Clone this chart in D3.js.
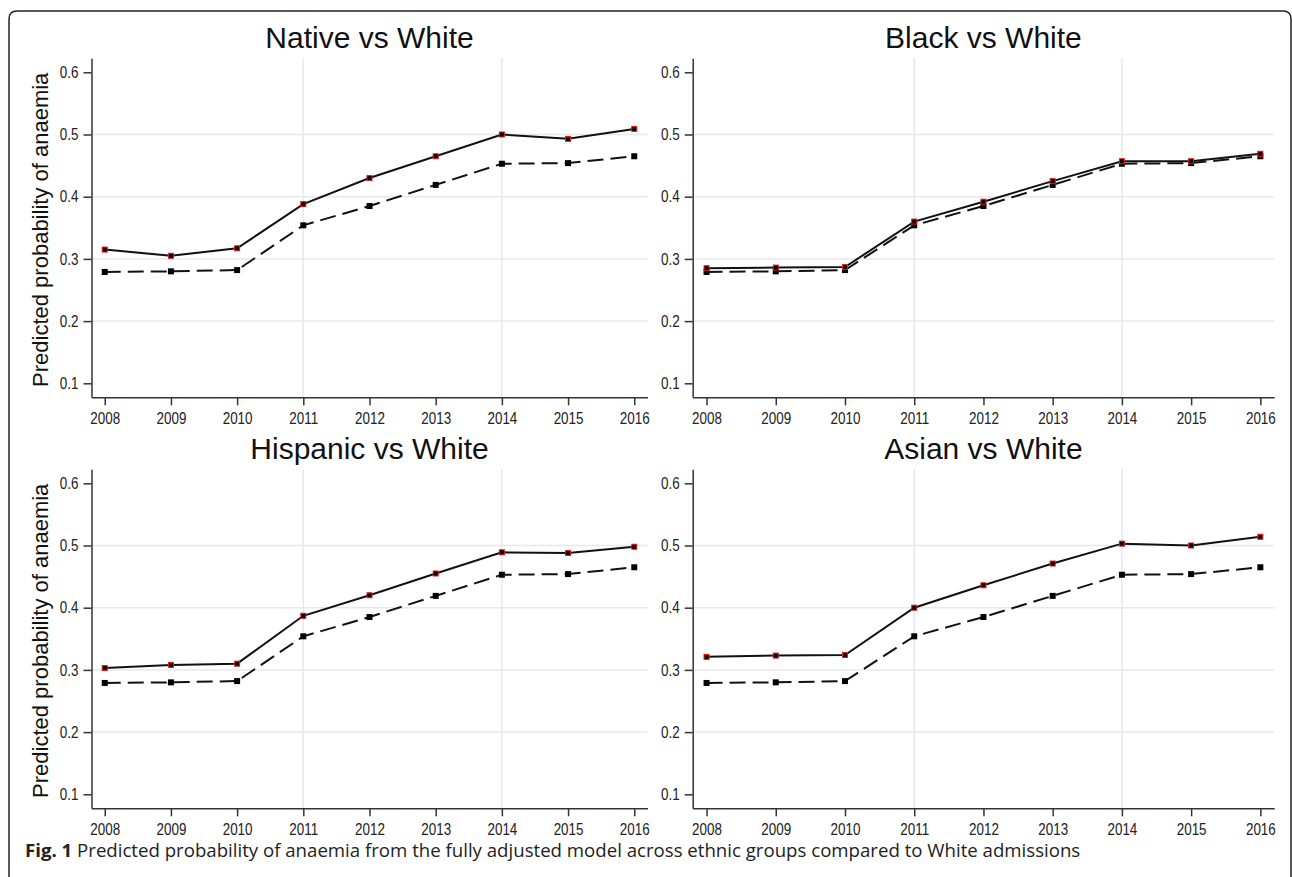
<!DOCTYPE html>
<html>
<head>
<meta charset="utf-8">
<script src="https://cdn.jsdelivr.net/npm/d3@7"></script>
<style>
  body { margin: 0; background: #fff; }
  svg { display: block; }
  .tick text { font-family: "Liberation Sans", Arial, sans-serif; fill: #222; }
  .domain, .tick line { stroke: #333; stroke-width: 1.5; }
</style>
</head>
<body>
<div id="chart"></div>
<script>
// years on the x axis
var years = [2008, 2009, 2010, 2011, 2012, 2013, 2014, 2015, 2016];
// reference group (dashed line), same in all panels
var white = [0.279, 0.280, 0.282, 0.354, 0.385, 0.419, 0.453, 0.454, 0.465];
// comparison groups (solid line)
var native = [0.315, 0.305, 0.317, 0.388, 0.430, 0.465, 0.500, 0.493, 0.509];
var black = [0.285, 0.286, 0.287, 0.360, 0.392, 0.425, 0.457, 0.457, 0.469];
var hispanic = [0.303, 0.308, 0.310, 0.387, 0.420, 0.455, 0.489, 0.488, 0.498];
var asian = [0.321, 0.323, 0.324, 0.400, 0.436, 0.471, 0.503, 0.500, 0.514];
var titles = ["Native vs White", "Black vs White", "Hispanic vs White", "Asian vs White"];
var yTicks = [0.1, 0.2, 0.3, 0.4, 0.5, 0.6];
var yGrid = [0.2, 0.3, 0.4, 0.5];
var xGrid = [2011, 2014];
var yTitle = "Predicted probability of anaemia";
var captionBold = "Fig. 1";
var captionText = " Predicted probability of anaemia from the fully adjusted model across ethnic groups compared to White admissions";

var W = 1292, H = 877;
var narrow = 0.84; // tick labels are set in a condensed face

var svg = d3.select("#chart").append("svg")
    .attr("width", W)
    .attr("height", H);

// figure frame (open at the bottom)
svg.append("path")
    .attr("d", "M9," + H + " V19 Q9,11 17,11 H1283 Q1291,11 1291,19 V" + H)
    .attr("fill", "none")
    .attr("stroke", "#222")
    .attr("stroke-width", 1.5);

var panels = [
  { title: titles[0], vals: native,   x0: 91.5,  x1: 647.5,  top: 58.3,  bottom: 397.3, ytitle: true },
  { title: titles[1], vals: black,    x0: 692.7, x1: 1274.2, top: 58.3,  bottom: 397.3, ytitle: false },
  { title: titles[2], vals: hispanic, x0: 91.5,  x1: 647.5,  top: 469.3, bottom: 808.3, ytitle: true },
  { title: titles[3], vals: asian,    x0: 692.7, x1: 1274.2, top: 469.3, bottom: 808.3, ytitle: false }
];

panels.forEach(function(p) {
  // first year sits ~0.2 year inside the axis on both ends
  var x = d3.scaleLinear().domain([2007.8, 2016.2]).range([p.x0, p.x1]);
  var y = d3.scaleLinear().domain([0.0775, 0.6225]).range([p.bottom, p.top]);
  var g = svg.append("g");

  // grid
  g.selectAll(".hgrid").data(yGrid).enter().append("line")
      .attr("x1", p.x0).attr("x2", p.x1)
      .attr("y1", function(d) { return y(d); })
      .attr("y2", function(d) { return y(d); })
      .attr("stroke", "#e8e8e8").attr("stroke-width", 1.5);
  g.selectAll(".vgrid").data(xGrid).enter().append("line")
      .attr("y1", p.top).attr("y2", p.bottom)
      .attr("x1", function(d) { return x(d); })
      .attr("x2", function(d) { return x(d); })
      .attr("stroke", "#e8e8e8").attr("stroke-width", 1.5);

  // axes
  g.append("g")
      .attr("transform", "translate(0," + p.bottom + ")")
      .call(d3.axisBottom(x).tickValues(years).tickFormat(d3.format("d")).tickSize(8).tickSizeOuter(0).tickPadding(7))
      .call(function(a) {
        a.selectAll("text")
          .style("font-size", "16px")
          .attr("transform", "scale(" + narrow + ",1)");
      });
  g.append("g")
      .attr("transform", "translate(" + p.x0 + ",0)")
      .call(d3.axisLeft(y).tickValues(yTicks).tickFormat(d3.format(".1f")).tickSize(8).tickSizeOuter(0).tickPadding(5))
      .call(function(a) {
        a.selectAll("text")
          .style("font-size", "16px")
          .attr("x", -13 / narrow)
          .attr("transform", "scale(" + narrow + ",1)");
      });

  // title
  g.append("text")
      .attr("x", (p.x0 + p.x1) / 2)
      .attr("y", p.top - 10)
      .attr("text-anchor", "middle")
      .style("font", "30px 'Liberation Sans', Arial, sans-serif")
      .style("fill", "#111")
      .text(p.title);

  if (p.ytitle) {
    g.append("text")
        .attr("transform", "translate(" + (p.x0 - 44) + "," + ((p.top + p.bottom) / 2 + 2) + ") rotate(-90)")
        .attr("text-anchor", "middle")
        .style("font", "22px 'Liberation Sans', Arial, sans-serif")
        .style("fill", "#111")
        .text(yTitle);
  }

  var line = d3.line()
      .x(function(d, i) { return x(years[i]); })
      .y(function(d) { return y(d); });

  // reference line (dashed)
  g.append("path")
      .datum(white)
      .attr("d", line)
      .attr("fill", "none")
      .attr("stroke", "#111")
      .attr("stroke-width", 2)
      .attr("stroke-dasharray", "16,7");
  g.selectAll(".mw").data(white).enter().append("rect")
      .attr("x", function(d, i) { return x(years[i]) - 3; })
      .attr("y", function(d) { return y(d) - 3; })
      .attr("width", 6).attr("height", 6)
      .attr("fill", "#000");

  // comparison group (solid)
  g.append("path")
      .datum(p.vals)
      .attr("d", line)
      .attr("fill", "none")
      .attr("stroke", "#111")
      .attr("stroke-width", 2);
  g.selectAll(".mg").data(p.vals).enter().append("rect")
      .attr("x", function(d, i) { return x(years[i]) - 2.5; })
      .attr("y", function(d) { return y(d) - 2.5; })
      .attr("width", 5).attr("height", 5)
      .attr("fill", "#000")
      .attr("stroke", "#e41a1c")
      .attr("stroke-width", 1);
});

// caption
var cap = svg.append("text")
    .attr("x", 25)
    .attr("y", 857)
    .style("font-family", "'Open Sans', 'Noto Sans', sans-serif")
    .style("font-size", "16px")
    .style("fill", "#222");
cap.append("tspan").style("font-weight", "bold").text(captionBold);
cap.append("tspan").text(captionText);
// fit caption to its width in the reference
var len = cap.node().getComputedTextLength();
cap.style("font-size", (16 * 1056 / len) + "px");
</script>
</body>
</html>
